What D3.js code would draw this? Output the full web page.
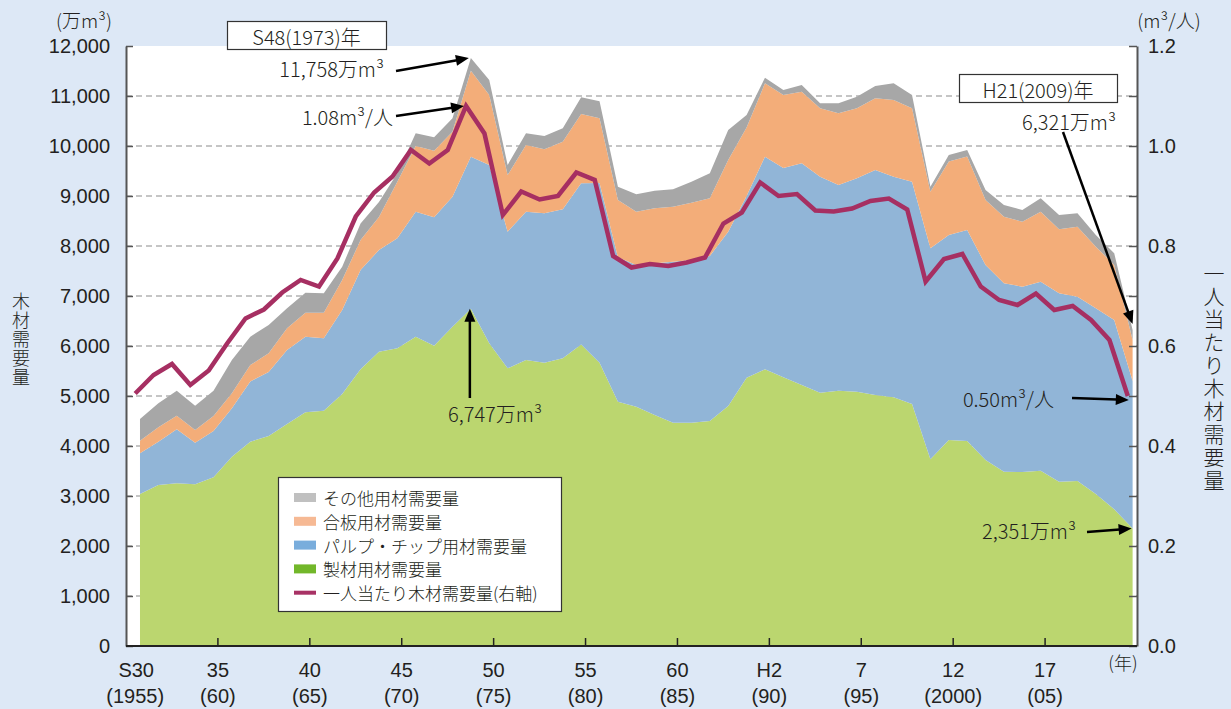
<!DOCTYPE html>
<html><head><meta charset="utf-8">
<script src="https://cdn.jsdelivr.net/npm/d3@7"></script>
<style>
html,body{margin:0;padding:0;background:#dde8f6;}
svg{display:block;}
text{font-family:"Noto Sans CJK JP","Noto Sans",sans-serif;font-weight:300;fill:#231f20;}
text.num{font-family:"Liberation Sans","DejaVu Sans",sans-serif;font-weight:400;}
</style></head><body>
<svg id="chart" width="1231" height="709"></svg>
<script>
// ---------------- data (万m3, m3/人) ----------------
const years = [1955,1956,1957,1958,1959,1960,1961,1962,1963,1964,1965,1966,1967,1968,1969,
  1970,1971,1972,1973,1974,1975,1976,1977,1978,1979,1980,1981,1982,1983,1984,1985,1986,1987,
  1988,1989,1990,1991,1992,1993,1994,1995,1996,1997,1998,1999,2000,2001,2002,2003,2004,2005,
  2006,2007,2008,2009];
const sawnwood = [3040,3220,3253,3233,3373,3787,4087,4200,4440,4673,4707,5040,5533,5887,5953,
  6187,6007,6387,6747,6053,5553,5720,5667,5753,6030,5667,4887,4787,4620,4467,4467,4500,4800,
  5367,5533,5373,5220,5067,5107,5087,5020,4973,4840,3733,4120,4100,3720,3487,3480,3507,3287,
  3300,3040,2733,2351];
const pulpChip = [813,867,1080,834,927,966,1203,1280,1480,1514,1446,1680,1987,2033,2200,
  2500,2566,2600,3040,3567,2734,2967,2986,2980,3223,3593,2886,2833,3033,3220,3253,3300,3487,
  3633,4254,4187,4433,4320,4113,4266,4500,4414,4447,4220,4100,4220,3900,3766,3707,3780,3766,
  3687,3713,3787,2949];
const plywood = [254,286,274,253,300,300,330,373,433,480,514,600,600,660,1134,
  1313,1334,1300,1720,1400,1133,1333,1280,1354,1387,1293,1147,1067,1100,1100,1147,1153,1433,
  1370,1466,1460,1434,1366,1433,1400,1433,1533,1466,1134,1470,1470,1300,1334,1300,1400,1280,
  1400,1234,1100,820];
const otherUse = [433,480,500,487,507,667,567,567,400,400,386,267,330,300,166,
  253,266,266,251,300,200,233,267,266,333,343,267,346,354,346,420,500,600,
  250,114,100,133,100,200,234,247,333,267,100,130,130,200,233,233,266,287,
  266,233,233,201];
const perCapita = [0.505,0.542,0.564,0.522,0.551,0.605,0.655,0.673,0.707,0.732,0.719,0.775,0.859,0.907,0.939,
  0.992,0.965,0.992,1.08,1.025,0.862,0.909,0.893,0.90,0.947,0.932,0.78,0.757,0.764,0.76,0.767,0.777,0.845,
  0.867,0.927,0.90,0.904,0.871,0.869,0.875,0.89,0.895,0.873,0.729,0.774,0.784,0.719,0.692,0.682,0.705,0.672,
  0.68,0.652,0.612,0.50];
const xTickYears = [1955,1960,1965,1970,1975,1980,1985,1990,1995,2000,2005];
const xTickTop = ["S30","35","40","45","50","55","60","H2","7","12","17"];
const xTickBottom = ["(1955)","(60)","(65)","(70)","(75)","(80)","(85)","(90)","(95)","(2000)","(05)"];
const leftTicks = [0,1000,2000,3000,4000,5000,6000,7000,8000,9000,10000,11000,12000];
const rightTicks = [0,0.1,0.2,0.3,0.4,0.5,0.6,0.7,0.8,0.9,1.0,1.1,1.2];
const seriesNames = ["その他用材需要量","合板用材需要量","パルプ・チップ用材需要量","製材用材需要量","一人当たり木材需要量(右軸)"];

// ---------------- layout ----------------
const W = 1231, H = 709;
const P = {l:126, r:1137, t:46, b:646};
const svg = d3.select("#chart");
const FONT = 20;

const xLine = d3.scalePoint().domain(years).range([P.l, P.r]).padding(0.5);
const step = xLine.step();
const xArea = d3.scalePoint().domain(years).range([P.l + 4.8, P.r + 4.8]).padding(0.5);
const yL = d3.scaleLinear().domain([0,12000]).range([P.b, P.t]);
const yR = d3.scaleLinear().domain([0,1.2]).range([P.b, P.t]);

svg.append("rect").attr("width",W).attr("height",H).attr("fill","#dde8f6");
svg.append("rect").attr("x",P.l).attr("y",P.t).attr("width",P.r-P.l).attr("height",P.b-P.t).attr("fill","#fff");

// gridlines
svg.append("g").selectAll("line").data(leftTicks.filter(v=>v>0 && v<12000)).join("line")
  .attr("x1",P.l).attr("x2",P.r).attr("y1",d=>yL(d)).attr("y2",d=>yL(d))
  .attr("stroke","#b3b3b3").attr("stroke-width",1.4).attr("stroke-dasharray","6,4");

// stacked areas
const table = years.map((y,i)=>({year:y, sawn:sawnwood[i], pulp:pulpChip[i], ply:plywood[i], other:otherUse[i]}));
const keys = ["sawn","pulp","ply","other"];
const areaColors = {sawn:"#bbd66f", pulp:"#91b5d7", ply:"#f3ad79", other:"#a7a7a7"};
const stacked = d3.stack().keys(keys)(table);
const area = d3.area().x(d=>xArea(d.data.year)).y0(d=>yL(d[0])).y1(d=>yL(d[1]));
svg.append("g").selectAll("path").data(stacked).join("path")
  .attr("d",area).attr("fill",d=>areaColors[d.key]);

// per-capita line
const line = d3.line().x((d,i)=>xLine(years[i])).y(d=>yR(d));
svg.append("path").datum(perCapita).attr("d",line).attr("fill","none")
  .attr("stroke","#a62f62").attr("stroke-width",4.5).attr("stroke-linejoin","miter");

// left axis
const axL = d3.axisLeft(yL).tickValues(leftTicks).tickSizeInner(-7).tickSizeOuter(0).tickPadding(16)
  .tickFormat(d3.format(","));
const gL = svg.append("g").attr("transform",`translate(${P.l},0)`).call(axL);
gL.attr("font-family",null).attr("font-size",null);
gL.select(".domain").attr("stroke","#555").attr("stroke-width",2);
gL.selectAll(".tick line").attr("stroke","#555").attr("stroke-width",1.5);
gL.selectAll(".tick text").attr("class","num").attr("font-size",FONT).attr("fill","#231f20");

// right axis
const axR = d3.axisRight(yR).tickValues(rightTicks).tickSizeInner(-8).tickSizeOuter(0).tickPadding(11)
  .tickFormat(d=> (Math.round(d*10)%2===0) ? d.toFixed(1) : "");
const gR = svg.append("g").attr("transform",`translate(${P.r},0)`).call(axR);
gR.attr("font-family",null).attr("font-size",null);
gR.select(".domain").attr("stroke","#555").attr("stroke-width",2);
gR.selectAll(".tick line").attr("stroke","#555").attr("stroke-width",1.5);
gR.selectAll(".tick text").attr("class","num").attr("font-size",FONT).attr("fill","#231f20");

// bottom axis
const gB = svg.append("g");
gB.append("line").attr("x1",P.l).attr("x2",P.r).attr("y1",P.b).attr("y2",P.b).attr("stroke","#222").attr("stroke-width",2);
const tickX = (y,i) => i===0 ? xLine(y) : xLine(y) - step/2;
gB.selectAll("line.t").data(xTickYears.slice(1)).join("line").attr("class","t")
  .attr("x1",(d,i)=>tickX(d,i+1)).attr("x2",(d,i)=>tickX(d,i+1))
  .attr("y1",P.b).attr("y2",P.b-8).attr("stroke","#222").attr("stroke-width",1.5);
gB.selectAll("text.a").data(xTickTop).join("text").attr("class","num a")
  .attr("x",(d,i)=>tickX(xTickYears[i],i)+ (i===0?1:0)).attr("y",670).attr("text-anchor","middle")
  .attr("dominant-baseline","central").attr("font-size",FONT).text(d=>d);
gB.selectAll("text.b").data(xTickBottom).join("text").attr("class","num b")
  .attr("x",(d,i)=>tickX(xTickYears[i],i)).attr("y",696).attr("text-anchor","middle")
  .attr("dominant-baseline","central").attr("font-size",FONT).text(d=>d);
svg.append("text").attr("x",1123).attr("y",662).attr("text-anchor","middle").attr("dominant-baseline","central")
  .attr("font-size",18).text("(年)");

// unit labels
svg.append("text").attr("x",84).attr("y",19).attr("text-anchor","middle").attr("dominant-baseline","central")
  .attr("font-size",19).text("(万m³)");
svg.append("text").attr("x",1169).attr("y",19).attr("text-anchor","middle").attr("dominant-baseline","central")
  .attr("font-size",19).text("(m³/人)");
// axis titles (vertical)
svg.append("text").attr("x",21).attr("y",340).attr("text-anchor","middle")
  .style("writing-mode","vertical-rl").attr("font-size",18).attr("letter-spacing",1).text("木材需要量");
svg.append("text").attr("x",1214).attr("y",378).attr("text-anchor","middle")
  .style("writing-mode","vertical-rl").attr("font-size",21).attr("letter-spacing",2).text("一人当たり木材需要量");

// legend
const leg = svg.append("g");
leg.append("rect").attr("x",278.5).attr("y",477.5).attr("width",283).attr("height",134)
  .attr("fill","#fff").attr("stroke","#333").attr("stroke-width",1.2);
const legColors = ["#c0c0c0","#f6b994","#79addc","#72b72a","#a83265"];
const rowY = i => 497.5 + i*23.8;
leg.selectAll("rect.sw").data(seriesNames).join("rect").attr("class","sw")
  .attr("x",294).attr("width",22).attr("y",(d,i)=> i===4 ? rowY(i)-2 : rowY(i)-4.5).attr("height",(d,i)=> i===4?4:9)
  .attr("fill",(d,i)=>legColors[i]);
leg.selectAll("text").data(seriesNames).join("text")
  .attr("x",323).attr("y",(d,i)=>rowY(i)).attr("dominant-baseline","central").attr("font-size",17).text(d=>d);

// annotations
const ann = svg.append("g");
function arrow(x1,y1,x2,y2,head=true){
  const a = Math.atan2(y2-y1,x2-x1), L=13, hw=5.5;
  const ex = head ? x2 - L*Math.cos(a) : x2, ey = head ? y2 - L*Math.sin(a) : y2;
  ann.append("line").attr("x1",x1).attr("y1",y1).attr("x2",ex+Math.cos(a)).attr("y2",ey+Math.sin(a))
    .attr("stroke","#000").attr("stroke-width",2.5);
  if(head){
    const px = -Math.sin(a), py = Math.cos(a);
    ann.append("path").attr("d",`M${x2},${y2}L${ex+px*hw},${ey+py*hw}L${ex-px*hw},${ey-py*hw}Z`).attr("fill","#000");
  }
}
function label(x,y,t,anchor){
  ann.append("text").attr("x",x).attr("y",y).attr("text-anchor",anchor).attr("dominant-baseline","central")
    .attr("font-size",FONT).text(t);
}
function boxLabel(x,y,w,h,t){
  ann.append("rect").attr("x",x+0.5).attr("y",y+0.5).attr("width",w).attr("height",h).attr("fill","#fff")
    .attr("stroke","#333").attr("stroke-width",1.2);
  ann.append("text").attr("x",x+w/2).attr("y",y+h/2+1).attr("text-anchor","middle").attr("dominant-baseline","central")
    .attr("font-size",FONT).text(t);
}
const iPeak = years.indexOf(1973), iLast = years.length-1;
const totalPeak = sawnwood[iPeak]+pulpChip[iPeak]+plywood[iPeak]+otherUse[iPeak];
const totalLast = sawnwood[iLast]+pulpChip[iLast]+plywood[iLast]+otherUse[iLast];

boxLabel(227,21,159,28,"S48(1973)年");
label(384,68,"11,758万m³","end");
arrow(396,71, xArea(1973)-2, yL(totalPeak));
label(393,116,"1.08m³/人","end");
arrow(396,116, xLine(1973)-2, yR(perCapita[iPeak]));
label(495,413,"6,747万m³","middle");
arrow(xArea(1973)-1,398, xArea(1973)-1, yL(sawnwood[iPeak]));

boxLabel(959,74,158,28,"H21(2009)年");
label(1116,121,"6,321万m³","end");
arrow(1063,132, xArea(2009), yL(totalLast)-6);
label(1054,398,"0.50m³/人","end");
arrow(1072,398, xLine(2009)+1, yR(perCapita[iLast])+4);
label(1076,530,"2,351万m³","end");
arrow(1087,532, xArea(2009)-1, yL(sawnwood[iLast]));
</script>
</body></html>
